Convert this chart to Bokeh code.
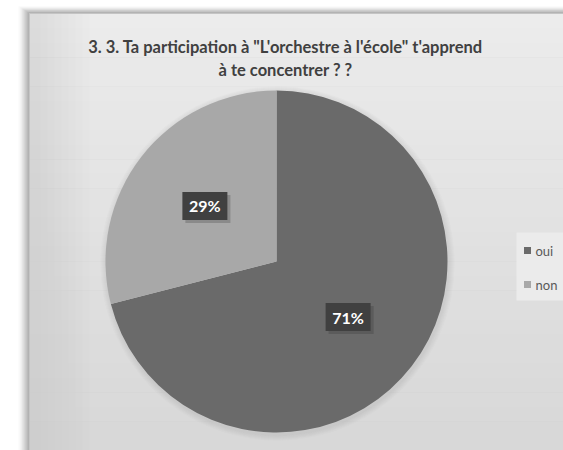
import math
from bokeh.plotting import figure
from bokeh.models import Range1d
from bokeh.core.properties import value
from bokeh.embed import file_html
from bokeh.resources import INLINE

# ---- data ----
categories = ["oui", "non"]
values = [71, 29]
colors = ["#6a6a6a", "#a8a8a8"]
title_lines = ["3. 3.  Ta participation à \"L'orchestre à l'école\" t'apprend",
               "à te concentrer ?  ?"]

W, H = 563, 450
p = figure(width=W, height=H, x_range=Range1d(0, W), y_range=Range1d(0, H),
           output_backend="svg", toolbar_location=None, min_border=0)
p.axis.visible = False
p.grid.visible = False
p.outline_line_color = None
p.background_fill_color = "white"
p.border_fill_color = "white"

def Y(sy):
    return H - sy

PL, PT = 29, 13
# shadow left/top of panel
for i in range(12):
    a = 0.012 * (i + 1)
    p.quad(left=[PL - 12 + i], right=[W], top=[Y(PT - 8 + i * 0.66)], bottom=[0],
           fill_color="#808080", fill_alpha=a, line_color=None)

# panel with vertical gradient
n = 30
top_c = (0xec, 0xec, 0xec)
bot_c = (0xd8, 0xd8, 0xd8)
band = (H - PT) / n
for i in range(n):
    t = i / (n - 1)
    c = tuple(int(top_c[k] + (bot_c[k] - top_c[k]) * t) for k in range(3))
    p.quad(left=[PL], right=[W], top=[Y(PT + i * band)], bottom=[Y(PT + (i + 1) * band) - 0.5],
           fill_color="#%02x%02x%02x" % c, line_color=None)
for i in range(8):
    p.quad(left=[PL], right=[PL + 60 - i * 7], top=[Y(PT)], bottom=[0],
           fill_color="#b0b0b0", fill_alpha=0.025, line_color=None)
p.segment(x0=[PL], y0=[Y(PT)], x1=[W], y1=[Y(PT)], line_color="#c4c4c4", line_width=1)
p.segment(x0=[PL], y0=[Y(PT)], x1=[PL], y1=[0], line_color="#c4c4c4", line_width=1)

# title
p.text(x=[287, 287], y=[Y(46), Y(69)], text=title_lines,
       text_font=value("Lato"), text_font_style="bold", text_font_size="16.5px",
       text_color="#404040", text_align="center", text_baseline="middle")

# pie
cx, cy, R = 276, Y(261), 171
total = sum(values)
starts, ends, mids = [], [], []
cum = 0.0
for v in values:
    a_end = math.pi / 2 - 2 * math.pi * cum / total
    cum += v
    a_start = math.pi / 2 - 2 * math.pi * cum / total
    starts.append(a_start)
    ends.append(a_end)
    mids.append((a_start + a_end) / 2)

for i in range(6):
    p.wedge(x=cx + 1, y=cy - 2, radius=R + 6 - i, start_angle=0, end_angle=2 * math.pi,
            fill_color="#909090", fill_alpha=0.04, line_color=None)

p.wedge(x=cx, y=cy, radius=R, start_angle=starts, end_angle=ends,
        fill_color=colors, line_color=None)

# data labels
lr = 0.53 * R
lx = [cx + lr * math.cos(m) for m in mids]
ly = [cy + lr * math.sin(m) for m in mids]
labels = ["%d%%" % v for v in values]
p.rect(x=[x + 3 for x in lx], y=[y - 3 for y in ly], width=45, height=28,
       fill_color="#303030", fill_alpha=0.25, line_color=None)
p.rect(x=lx, y=ly, width=45, height=28, fill_color="#404040", line_color=None)
p.text(x=lx, y=ly, text=labels, text_font=value("Lato"), text_font_style="bold",
       text_font_size="16px", text_color="white", text_align="center",
       text_baseline="middle")

# legend
p.quad(left=[516], right=[W], top=[Y(232)], bottom=[Y(300)],
       fill_color="#ebebeb", line_color=None)
ly_leg = [Y(250), Y(284)]
p.rect(x=[527, 527], y=ly_leg, width=7, height=7, fill_color=colors, line_color=None)
p.text(x=[535, 535], y=ly_leg, text=categories, text_font=value("Lato"),
       text_font_size="13px", text_color="#595959", text_align="left",
       text_baseline="middle")

open("out.html", "w").write(file_html(p, INLINE))
